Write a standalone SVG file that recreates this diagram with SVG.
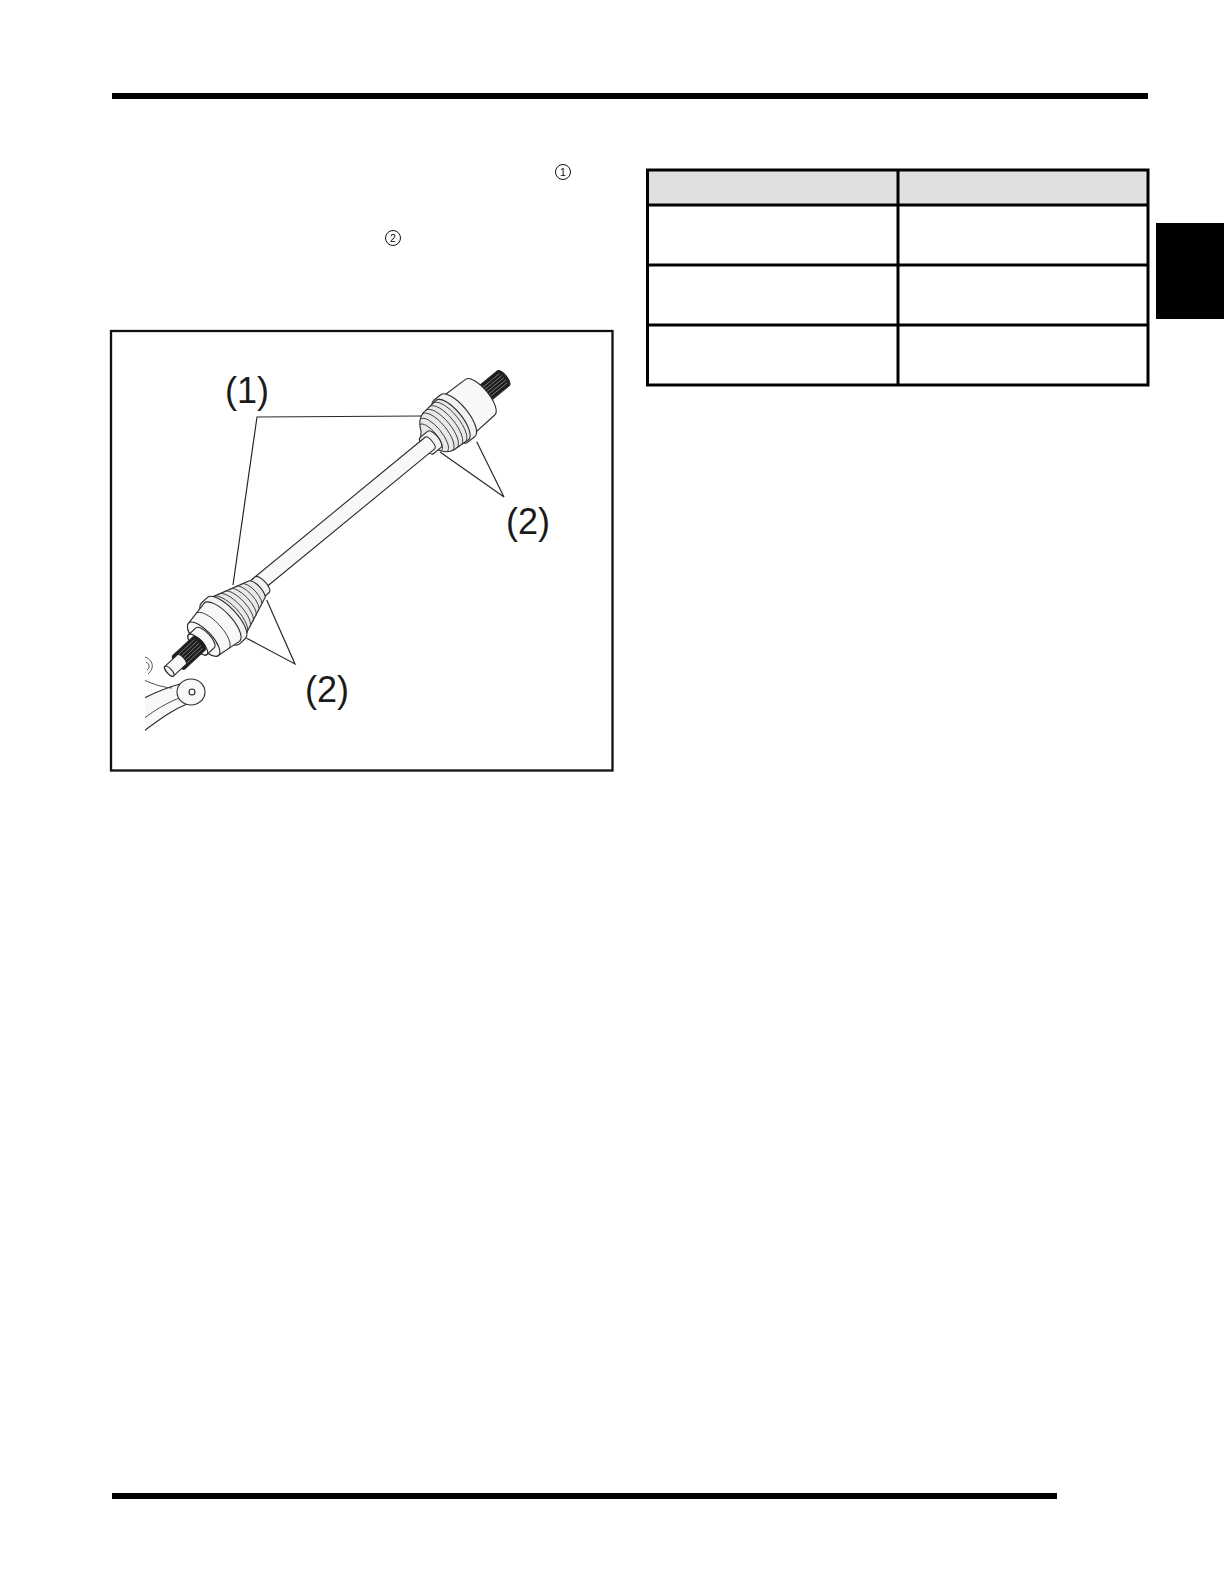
<svg xmlns="http://www.w3.org/2000/svg" width="1224" height="1584" viewBox="0 0 1224 1584">
<defs>
<style>
.bar{fill:#000}
.tb{fill:none;stroke:#000;stroke-width:3}
.frame{fill:none;stroke:#111;stroke-width:2.3}
.part{stroke:#2a2a2a;stroke-width:1.1;stroke-linejoin:round}
.light{fill:#f8f8f8}
.boot{fill:#e9e9e9}
.band{fill:#f2f2f2}
.dark{fill:#1c1c1c}
.ridge{fill:none;stroke:#3a3a3a;stroke-width:0.9}
.spl{stroke:#9a9a9a;stroke-width:0.7}
.lead{fill:none;stroke:#2a2a2a;stroke-width:1.2}
.lbl{font-family:"Liberation Sans",Arial,sans-serif;font-size:36px;fill:#1a1a1a;text-anchor:middle}
.cn{font-family:"Liberation Sans",Arial,sans-serif;font-size:10.5px;fill:#111;text-anchor:middle}
.circ{fill:none;stroke:#111;stroke-width:1}
</style>
<clipPath id="kclip"><rect x="145" y="640" width="80" height="100"/></clipPath>
</defs>
<rect width="1224" height="1584" fill="#fff"/>

<g id="page-rules">
<rect class="bar" x="112" y="93" width="1036" height="6"/>
<rect class="bar" x="112" y="1493" width="945" height="6"/>
<rect class="bar" x="1156" y="223" width="68" height="96"/>
</g>

<g id="text-refs">
<circle class="circ" cx="563" cy="172" r="7.5"/>
<text class="cn" x="563" y="175.8">1</text>
<circle class="circ" cx="393" cy="238" r="7.5"/>
<text class="cn" x="393" y="241.8">2</text>
</g>

<g id="table">
<rect x="647.5" y="170" width="500.5" height="35" fill="#e0e0e0"/>
<rect class="tb" x="647.5" y="170" width="500.5" height="215"/>
<line class="tb" x1="647.5" y1="205" x2="1148" y2="205"/>
<line class="tb" x1="647.5" y1="265" x2="1148" y2="265"/>
<line class="tb" x1="647.5" y1="325" x2="1148" y2="325"/>
<line class="tb" x1="898" y1="170" x2="898" y2="385"/>
</g>

<g id="figure">
<rect class="frame" x="111" y="331" width="501.5" height="439.5"/>

<g id="upper-joint" transform="translate(300,549.7) rotate(-39.4)">
  <g transform="translate(0,-3.5)">
    <path class="part dark" d="M234,-9.5 L266,-9.5 A3.6 9.5 0 0 1 266,9.5 L234,9.5 A3.6 9.5 0 0 1 234,-9.5 Z"/>
    <g class="spl"><line x1="244" y1="-6" x2="266" y2="-6"/><line x1="244" y1="-3" x2="267" y2="-3"/><line x1="244" y1="0" x2="267" y2="0"/><line x1="244" y1="3" x2="267" y2="3"/><line x1="244" y1="6" x2="266" y2="6"/></g>
    <path class="part light" d="M205,-24.5 L236,-23 A8.7 23 0 0 1 236,23 L205,24.5 A9.3 24.5 0 0 1 205,-24.5 Z"/>
    <path class="part band" d="M198,-27 L207,-27 A10.2 27 0 0 1 207,27 L198,27 A10.2 27 0 0 1 198,-27 Z"/>
    <path class="part boot" d="M168,-10 C172,-19 176,-23 182,-24 L200,-25.5 A9.7 25.5 0 0 1 200,25.5 L182,24 C176,23 172,19 168,10 A3.8 10 0 0 1 168,-10 Z"/>
    <path class="ridge" d="M172,-17 A6.5 17 0 0 1 172,17 M176,-21 A8 21 0 0 1 176,21 M181,-23.5 A8.9 23.5 0 0 1 181,23.5 M186,-24.2 A9.2 24.2 0 0 1 186,24.2 M191,-24.8 A9.4 24.8 0 0 1 191,24.8 M196,-25.2 A9.6 25.2 0 0 1 196,25.2"/>
  </g>
  <path class="part band" d="M164,-10.5 L174,-10.5 A4 10.5 0 0 1 174,10.5 L164,10.5 A4 10.5 0 0 1 164,-10.5 Z"/>
  <path class="part light" d="M-56,-7.5 L168,-7.5 A2.9 7.5 0 0 1 168,7.5 L-56,7.5 Z"/>
</g>

<g id="lower-joint" transform="translate(258.5,588) rotate(-43)">
  <path class="part band" d="M-5,-10.5 L5,-10.5 A4 10.5 0 0 1 5,10.5 L-5,10.5 A4 10.5 0 0 1 -5,-10.5 Z"/>
  <path class="part boot" d="M-46,-27 L-3,-12 A4.6 12 0 0 1 -3,12 L-46,27 A10.3 27 0 0 1 -46,-27 Z"/>
  <path class="ridge" d="M-40,-25 A9.5 25 0 0 1 -40,25 M-34,-22.9 A8.7 22.9 0 0 1 -34,22.9 M-28,-20.8 A7.9 20.8 0 0 1 -28,20.8 M-22,-18.7 A7.1 18.7 0 0 1 -22,18.7 M-16,-16.6 A6.3 16.6 0 0 1 -16,16.6 M-10,-14.5 A5.5 14.5 0 0 1 -10,14.5"/>
  <path class="part band" d="M-52,-28 L-44,-28 A10.6 28 0 0 1 -44,28 L-52,28 A10.6 28 0 0 1 -52,-28 Z"/>
  <path class="part light" d="M-75,-22 L-50,-26 A9.9 26 0 0 1 -50,26 L-75,22 A8.4 22 0 0 1 -75,-22 Z"/>
  <path class="ridge" d="M-63,-24 A9.1 24 0 0 1 -63,24"/>
  <ellipse class="part light" cx="-75" cy="0" rx="8.4" ry="22"/>
  <path class="part light" d="M-83,-13.5 L-73,-13.5 A5.1 13.5 0 0 1 -73,13.5 L-83,13.5 A5.1 13.5 0 0 1 -83,-13.5 Z"/>
  <ellipse class="part light" cx="-83" cy="0" rx="5.1" ry="13.5"/>
  <path class="part dark" d="M-109,-9 L-81,-9 A3.4 9 0 0 1 -81,9 L-109,9 A3.4 9 0 0 1 -109,-9 Z"/>
  <g class="spl"><line x1="-107" y1="-6" x2="-82" y2="-6"/><line x1="-108" y1="-3" x2="-81" y2="-3"/><line x1="-108" y1="0" x2="-81" y2="0"/><line x1="-108" y1="3" x2="-81" y2="3"/><line x1="-107" y1="6" x2="-82" y2="6"/></g>
  <path class="part light" d="M-122,-6.5 L-105,-6.5 A2.5 6.5 0 0 1 -105,6.5 L-122,6.5 A2.5 6.5 0 0 1 -122,-6.5 Z"/>
  <ellipse class="part light" cx="-122" cy="0" rx="2.5" ry="6.5"/>
</g>

<g id="knuckle" clip-path="url(#kclip)">
  <path class="part light" d="M140,700 C152,694 165,688 180,684 L187,704 C175,709 165,715 140,734 Z"/>
  <path class="ridge" d="M182,697 C168,702 155,710 143,719"/>
  <ellipse class="part light" cx="191" cy="692" rx="14" ry="13"/>
  <circle class="part light" cx="192" cy="692" r="3"/>
  <path class="ridge" d="M140,678 C150,683 160,687 172,688"/>
  <path class="ridge" d="M145,657 C153,660 155,668 148,674 M146,662 C150,664 150,668 147,670"/>
</g>
</g>

<g id="connectors">
<path class="lead" d="M422,416 L257,417 L233,585"/>
<path class="lead" d="M476.7,441.7 L504,497 L440,452"/>
<path class="lead" d="M266.7,600 L295,664 L246.7,638.3"/>
</g>

<g id="labels">
<text class="lbl" x="247" y="403">(1)</text>
<text class="lbl" x="528" y="534">(2)</text>
<text class="lbl" x="327" y="702">(2)</text>
</g>
</svg>
